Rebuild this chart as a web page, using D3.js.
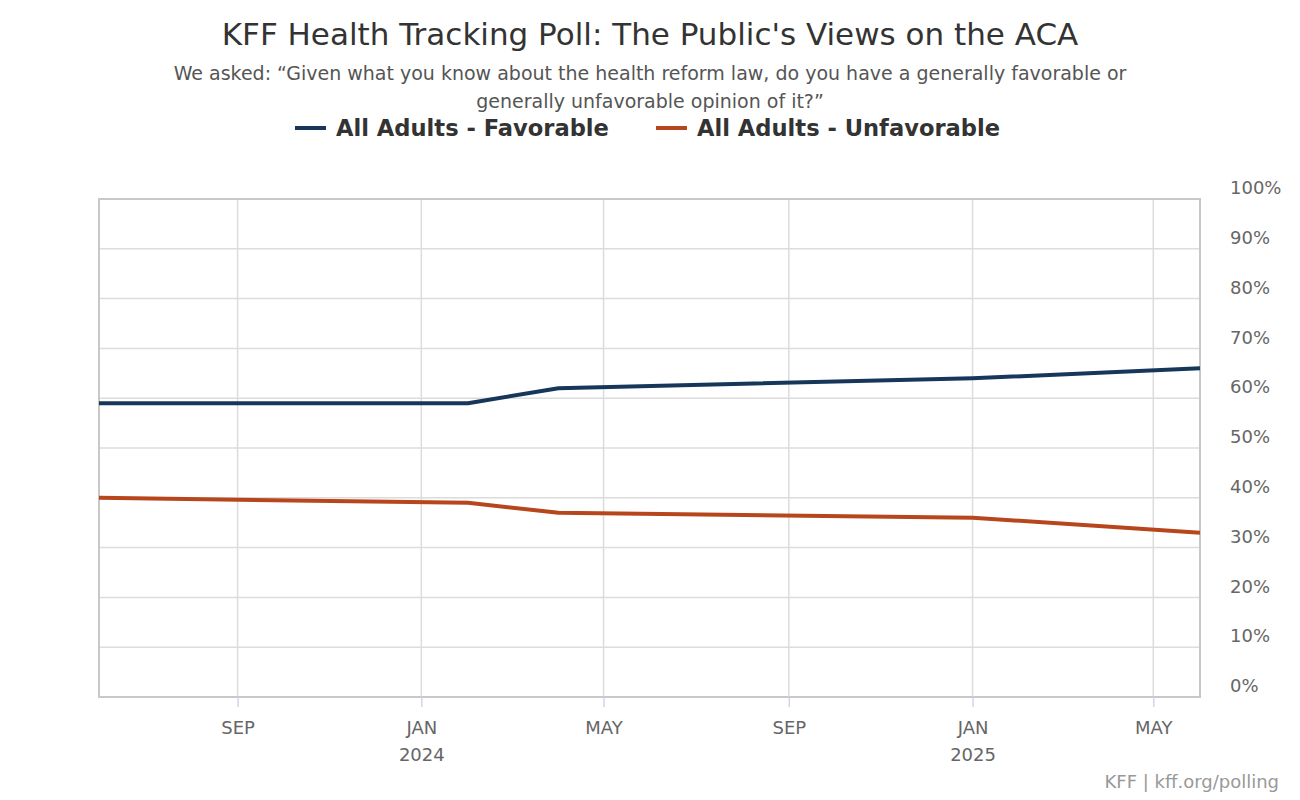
<!DOCTYPE html>
<html>
<head>
<meta charset="utf-8">
<script src="https://cdn.jsdelivr.net/npm/d3@7"></script>
<style>
  body { margin: 0; background: #fff; font-family: "DejaVu Sans", sans-serif; }
  svg text { font-family: "DejaVu Sans", sans-serif; }
</style>
</head>
<body>
<div id="chart"></div>
<script>
// survey waves and results (%)
const surveyDates = ["2023-06-01", "2024-02-01", "2024-04-01", "2025-01-01", "2025-06-01"];
const favorable = [59, 59, 62, 64, 66];
const unfavorable = [40, 39, 37, 36, 33];
const yTicks = [0, 10, 20, 30, 40, 50, 60, 70, 80, 90, 100];
const seriesNames = ["All Adults - Favorable", "All Adults - Unfavorable"];
const seriesColors = ["#16365a", "#b8461c"];

const width = 1300, height = 800;
const margin = { top: 199, right: 100, bottom: 103, left: 99 };
const innerW = width - margin.left - margin.right;
const innerH = height - margin.top - margin.bottom;

const parse = d3.timeParse("%Y-%m-%d");
const dates = surveyDates.map(parse);

const svg = d3.select("#chart").append("svg")
  .attr("width", width)
  .attr("height", height);

// --- titles -------------------------------------------------------
svg.append("text")
  .attr("x", 650).attr("y", 45)
  .attr("text-anchor", "middle")
  .attr("font-size", 31)
  .attr("fill", "#333")
  .text("KFF Health Tracking Poll: The Public's Views on the ACA");

svg.append("text")
  .attr("x", 650).attr("y", 80)
  .attr("text-anchor", "middle")
  .attr("font-size", 19)
  .attr("fill", "#555")
  .text("We asked: \u201cGiven what you know about the health reform law, do you have a generally favorable or");

svg.append("text")
  .attr("x", 650).attr("y", 108)
  .attr("text-anchor", "middle")
  .attr("font-size", 19)
  .attr("fill", "#555")
  .text("generally unfavorable opinion of it?\u201d");

// --- legend -------------------------------------------------------
const legendX = [295, 656];
seriesNames.forEach((name, i) => {
  const g = svg.append("g").attr("transform", `translate(${legendX[i]},128)`);
  g.append("line")
    .attr("x1", 0).attr("x2", 31)
    .attr("stroke", seriesColors[i])
    .attr("stroke-width", 4);
  g.append("text")
    .attr("x", 41).attr("y", 8)
    .attr("font-size", 22.6)
    .attr("font-weight", "bold")
    .attr("fill", "#333")
    .text(name);
});

// --- scales -------------------------------------------------------
const x = d3.scaleTime()
  .domain(d3.extent(dates))
  .range([0, innerW]);

const y = d3.scaleLinear()
  .domain([0, 100])
  .range([innerH, 0]);

const g = svg.append("g")
  .attr("transform", `translate(${margin.left},${margin.top})`);

const monthTicks = d3.timeMonth.every(4).range(x.domain()[0], x.domain()[1]);

// grid
g.append("g")
  .selectAll("line.hgrid")
  .data(yTicks)
  .join("line")
  .attr("class", "hgrid")
  .attr("x1", 0).attr("x2", innerW)
  .attr("y1", d => y(d)).attr("y2", d => y(d))
  .attr("stroke", "#dcdcdc")
  .attr("stroke-width", 1.5);

g.append("g")
  .selectAll("line.vgrid")
  .data(monthTicks)
  .join("line")
  .attr("class", "vgrid")
  .attr("x1", d => x(d)).attr("x2", d => x(d))
  .attr("y1", 0).attr("y2", innerH)
  .attr("stroke", "#dcdcdc")
  .attr("stroke-width", 1.5);

// plot border
g.append("rect")
  .attr("x", 0).attr("y", 0)
  .attr("width", innerW).attr("height", innerH)
  .attr("fill", "none")
  .attr("stroke", "#c8c8c8")
  .attr("stroke-width", 2);

// x axis
const monthFmt = d3.timeFormat("%b");
const xAxisG = g.append("g")
  .attr("transform", `translate(0,${innerH})`)
  .call(d3.axisBottom(x)
    .tickValues(monthTicks)
    .tickSize(10)
    .tickPadding(14)
    .tickFormat(d => monthFmt(d).toUpperCase()));
xAxisG.select(".domain").remove();
xAxisG.selectAll(".tick line").attr("stroke", "#ccd6eb").attr("stroke-width", 1.5);
xAxisG.selectAll(".tick text")
  .attr("font-size", 18)
  .attr("fill", "#666")
  .style("font-family", "DejaVu Sans, sans-serif");
xAxisG.selectAll(".tick")
  .filter(d => d.getMonth() === 0)
  .append("text")
  .attr("y", 64)
  .attr("text-anchor", "middle")
  .attr("font-size", 18)
  .attr("fill", "#666")
  .style("font-family", "DejaVu Sans, sans-serif")
  .text(d => d.getFullYear());

// y axis on the right
const yAxisG = g.append("g")
  .attr("transform", `translate(${innerW},0)`)
  .call(d3.axisRight(y)
    .tickValues(yTicks)
    .tickSize(0)
    .tickPadding(30)
    .tickFormat(d => d + "%"));
yAxisG.select(".domain").remove();
yAxisG.selectAll(".tick text")
  .attr("font-size", 18)
  .attr("fill", "#666")
  .attr("dy", "-0.3em")
  .style("font-family", "DejaVu Sans, sans-serif");

// lines
const line = d3.line()
  .x(d => x(d[0]))
  .y(d => y(d[1]));

[favorable, unfavorable].forEach((vals, i) => {
  g.append("path")
    .datum(dates.map((d, j) => [d, vals[j]]))
    .attr("fill", "none")
    .attr("stroke", seriesColors[i])
    .attr("stroke-width", 4)
    .attr("stroke-linejoin", "round")
    .attr("d", line);
});

// credit
svg.append("text")
  .attr("x", 1279).attr("y", 788)
  .attr("text-anchor", "end")
  .attr("font-size", 18)
  .attr("fill", "#999")
  .text("KFF | kff.org/polling");
</script>
</body>
</html>
